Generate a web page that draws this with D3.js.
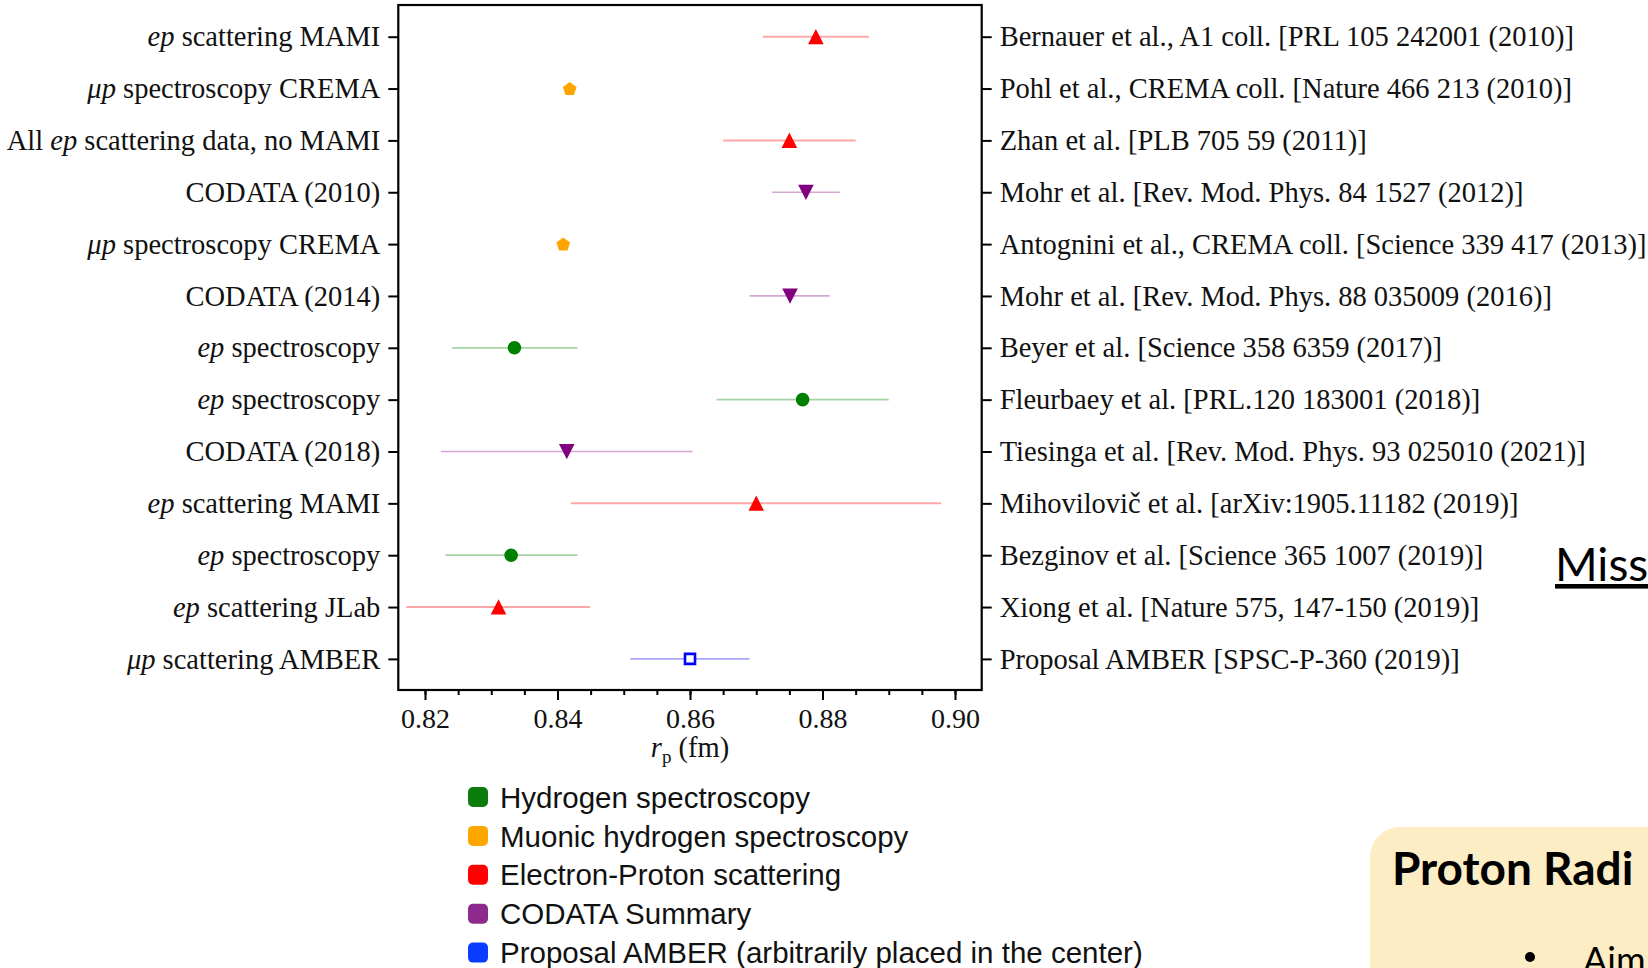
<!DOCTYPE html>
<html>
<head>
<meta charset="utf-8">
<script src="https://cdn.jsdelivr.net/npm/d3@7"></script>
<style>
    html, body { margin: 0; padding: 0; background: #fff; overflow: hidden; }
    #chart-area { width: 1648px; height: 968px; }
    .serif { font-family: 'Liberation Serif', 'Times New Roman', serif; }
</style>
</head>
<body>
<div id="chart-area"></div>
<script>
/*
*    Proton radius measurements - r_p overview
*/

// row labels, *...* marks the italic part
const leftLabels = [
    '*ep* scattering MAMI',
    '*μp* spectroscopy CREMA',
    'All *ep* scattering data, no MAMI',
    'CODATA (2010)',
    '*μp* spectroscopy CREMA',
    'CODATA (2014)',
    '*ep* spectroscopy',
    '*ep* spectroscopy',
    'CODATA (2018)',
    '*ep* scattering MAMI',
    '*ep* spectroscopy',
    '*ep* scattering JLab',
    '*μp* scattering AMBER'
];

const references = [
    'Bernauer et al., A1 coll. [PRL 105 242001 (2010)]',
    'Pohl et al., CREMA coll. [Nature 466 213 (2010)]',
    'Zhan et al. [PLB 705 59 (2011)]',
    'Mohr et al. [Rev. Mod. Phys. 84 1527 (2012)]',
    'Antognini et al., CREMA coll. [Science 339 417 (2013)]',
    'Mohr et al. [Rev. Mod. Phys. 88 035009 (2016)]',
    'Beyer et al. [Science 358 6359 (2017)]',
    'Fleurbaey et al. [PRL.120 183001 (2018)]',
    'Tiesinga et al. [Rev. Mod. Phys. 93 025010 (2021)]',
    'Mihovilovič et al. [arXiv:1905.11182 (2019)]',
    'Bezginov et al. [Science 365 1007 (2019)]',
    'Xiong et al. [Nature 575, 147-150 (2019)]',
    'Proposal AMBER [SPSC-P-360 (2019)]'
];

const methods = ['scat', 'muH', 'scat', 'codata', 'muH', 'codata', 'hyd', 'hyd', 'codata', 'scat', 'hyd', 'scat', 'amber'];

// r_p (fm), lower and upper end of the error bar
const radius = [0.8790, 0.84184, 0.8750, 0.8775, 0.84087, 0.8751, 0.8335, 0.8770, 0.8414, 0.8700, 0.8330, 0.8311, 0.8600];
const radiusLow = [0.8710, 0.84117, 0.8650, 0.8724, 0.84048, 0.8690, 0.8241, 0.8640, 0.8224, 0.8420, 0.8231, 0.8172, 0.8510];
const radiusHigh = [0.8870, 0.84251, 0.8850, 0.8826, 0.84126, 0.8811, 0.8430, 0.8900, 0.8604, 0.8979, 0.8430, 0.8449, 0.8690];

const xTicks = [0.82, 0.84, 0.86, 0.88, 0.90];

const legendLabels = [
    'Hydrogen spectroscopy',
    'Muonic hydrogen spectroscopy',
    'Electron-Proton scattering',
    'CODATA Summary',
    'Proposal AMBER (arbitrarily placed in the center)'
];
const legendColors = ['#0c7c0c', '#ffa500', '#ff0000', '#8e2a8e', '#0a3cff'];

;(function () {
    'use strict';

    const WIDTH = 1648;
    const HEIGHT = 968;
    const FRAME = {left: 398.3, right: 981.7, top: 5, bottom: 690};
    const LABEL_SIZE = 28.5;

    const markerColors = {
        'hyd': '#008000',
        'muH': '#ffa500',
        'scat': '#ff0000',
        'codata': '#800080',
        'amber': '#0000ff'
    };

    // marker shapes like matplotlib o, p, ^, v, s
    function markerPath(kind) {
        if (kind === 'scat') {
            return 'M0,-7.8L7.8,7.5L-7.8,7.5Z';
        }
        if (kind === 'codata') {
            return 'M0,7.8L7.8,-7.5L-7.8,-7.5Z';
        }
        if (kind === 'muH') {
            const r = 7.2;
            return 'M' + d3.range(5).map(k => {
                const a = -Math.PI / 2 + k * 2 * Math.PI / 5;
                return [r * Math.cos(a), r * Math.sin(a) + 0.6];
            }).join('L') + 'Z';
        }
        if (kind === 'amber') {
            return 'M-5,-5H5V5H-5Z';
        }
        return d3.symbol(d3.symbolCircle, Math.PI * 6.8 * 6.8)();
    }

    const svg = d3.select('#chart-area').append('svg')
        .attr('width', WIDTH)
        .attr('height', HEIGHT);

    svg.append('rect')
        .attr('width', WIDTH)
        .attr('height', HEIGHT)
        .attr('fill', '#fff');

    const xScale = d3.scaleLinear()
        .domain([0.81597, 0.90403])
        .range([FRAME.left, FRAME.right]);

    const yScale = d3.scalePoint()
        .domain(d3.range(leftLabels.length))
        .range([36.7, 658.9]);

    // left axis with mixed italic labels
    const leftAxis = svg.append('g')
        .attr('class', 'serif')
        .attr('transform', `translate(${FRAME.left}, 0)`)
        .call(d3.axisLeft(yScale).tickSize(10).tickPadding(8));
    leftAxis.select('.domain').remove();
    leftAxis.selectAll('.tick line').attr('stroke', '#000').attr('stroke-width', 2);
    leftAxis.selectAll('.tick text')
        .attr('font-size', LABEL_SIZE)
        .attr('fill', '#111')
        .attr('dy', '0.32em')
        .each(function (i) {
            const t = d3.select(this).text(null);
            leftLabels[i].split('*').forEach((part, k) => {
                if (!part) return;
                t.append('tspan')
                    .attr('font-style', k % 2 ? 'italic' : 'normal')
                    .text(part);
            });
        });

    const rightAxis = svg.append('g')
        .attr('class', 'serif')
        .attr('transform', `translate(${FRAME.right}, 0)`)
        .call(d3.axisRight(yScale).tickSize(10).tickPadding(8).tickFormat(i => references[i]));
    rightAxis.select('.domain').remove();
    rightAxis.selectAll('.tick line').attr('stroke', '#000').attr('stroke-width', 2);
    rightAxis.selectAll('.tick text')
        .attr('font-size', LABEL_SIZE)
        .attr('fill', '#111')
        .attr('dy', '0.32em');

    // bottom axis, major + minor ticks
    const minorAxis = svg.append('g')
        .attr('transform', `translate(0, ${FRAME.bottom})`)
        .call(d3.axisBottom(xScale).tickValues(xScale.ticks(16)).tickSize(5).tickFormat(''));
    minorAxis.select('.domain').remove();
    minorAxis.selectAll('.tick line').attr('stroke', '#000').attr('stroke-width', 2);

    const xAxis = svg.append('g')
        .attr('class', 'serif')
        .attr('transform', `translate(0, ${FRAME.bottom})`)
        .call(d3.axisBottom(xScale).tickValues(xTicks).tickSize(10).tickPadding(8).tickFormat(d3.format('.2f')));
    xAxis.select('.domain').remove();
    xAxis.selectAll('.tick line').attr('stroke', '#000').attr('stroke-width', 2);
    xAxis.selectAll('.tick text')
        .attr('font-size', 28)
        .attr('fill', '#111');

    const xLabel = svg.append('text')
        .attr('class', 'serif')
        .attr('x', (FRAME.left + FRAME.right) / 2)
        .attr('y', 757)
        .attr('text-anchor', 'middle')
        .attr('font-size', LABEL_SIZE)
        .attr('fill', '#111');
    xLabel.append('tspan').attr('font-style', 'italic').text('r');
    xLabel.append('tspan').attr('font-size', 19).attr('dy', 6).text('p');
    xLabel.append('tspan').attr('dy', -6).text(' (fm)');

    // error bars and markers
    const graph = svg.append('g').attr('class', 'graph');

    graph.selectAll('line.err')
        .data(d3.range(radius.length))
        .enter()
        .append('line')
        .attr('class', 'err')
        .attr('x1', i => xScale(radiusLow[i]))
        .attr('x2', i => xScale(radiusHigh[i]))
        .attr('y1', i => yScale(i))
        .attr('y2', i => yScale(i))
        .attr('stroke', i => markerColors[methods[i]])
        .attr('stroke-opacity', 0.35)
        .attr('stroke-width', i => methods[i] === 'scat' ? 2 : 1.7);

    graph.selectAll('path.marker')
        .data(d3.range(radius.length))
        .enter()
        .append('path')
        .attr('class', 'marker')
        .attr('transform', i => `translate(${xScale(radius[i])}, ${yScale(i)})`)
        .attr('d', i => markerPath(methods[i]))
        .attr('fill', i => methods[i] === 'amber' ? '#fff' : markerColors[methods[i]])
        .attr('stroke', i => methods[i] === 'amber' ? markerColors.amber : 'none')
        .attr('stroke-width', 2.6);

    // frame
    svg.append('rect')
        .attr('x', FRAME.left)
        .attr('y', FRAME.top)
        .attr('width', FRAME.right - FRAME.left)
        .attr('height', FRAME.bottom - FRAME.top)
        .attr('fill', 'none')
        .attr('stroke', '#000')
        .attr('stroke-width', 2.2);

    // legend
    const legend = svg.append('g')
        .attr('class', 'legend')
        .attr('transform', 'translate(468, 797)');

    legendLabels.forEach((label, i) => {
        const row = legend.append('g')
            .attr('transform', `translate(0, ${i * 38.9})`);
        row.append('rect')
            .attr('x', 0)
            .attr('y', -10)
            .attr('width', 20)
            .attr('height', 20)
            .attr('rx', 5)
            .attr('fill', legendColors[i]);
        row.append('text')
            .attr('x', 32)
            .attr('dy', '0.36em')
            .attr('font-family', "'Liberation Sans', Arial, sans-serif")
            .attr('font-size', 29.5)
            .attr('fill', '#111')
            .text(label);
    });

    // slide pieces cut off at the right edge
    svg.append('text')
        .attr('x', 1555)
        .attr('y', 581)
        .attr('font-family', 'Lato, sans-serif')
        .attr('font-size', 46)
        .attr('fill', '#000')
        .style('text-decoration', 'underline')
        .text('Miss');

    svg.append('rect')
        .attr('x', 1370)
        .attr('y', 827)
        .attr('width', 400)
        .attr('height', 300)
        .attr('rx', 30)
        .attr('fill', '#fdedc4');

    svg.append('text')
        .attr('x', 1392)
        .attr('y', 885)
        .attr('font-family', 'Lato, sans-serif')
        .attr('font-weight', 'bold')
        .attr('font-size', 46)
        .attr('fill', '#000')
        .text('Proton Radi');

    svg.append('circle')
        .attr('cx', 1530)
        .attr('cy', 957)
        .attr('r', 5)
        .attr('fill', '#000');

    svg.append('text')
        .attr('x', 1583)
        .attr('y', 973)
        .attr('font-family', 'Lato, sans-serif')
        .attr('font-size', 36)
        .attr('fill', '#000')
        .text('Aim');
})();
</script>
</body>
</html>
